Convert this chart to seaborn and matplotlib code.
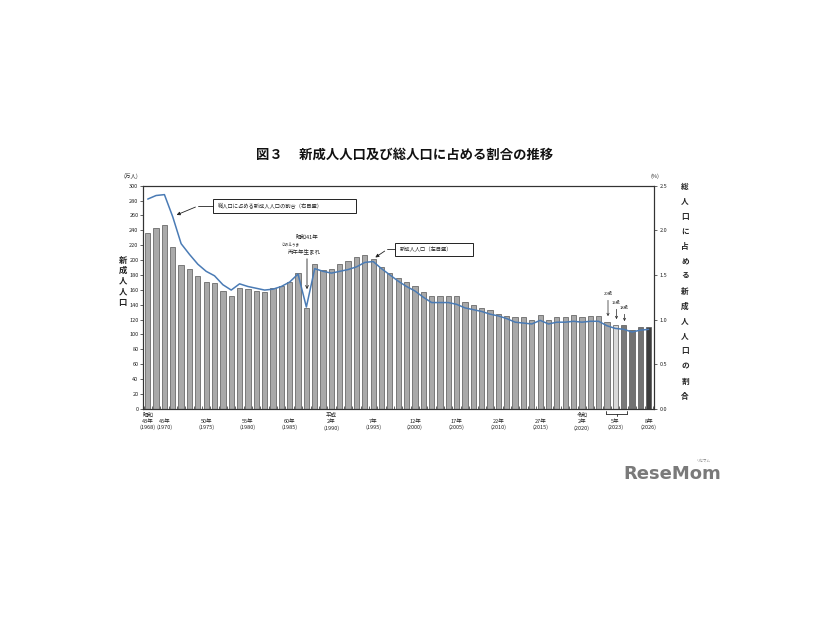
import matplotlib.pyplot as plt
import matplotlib.patches as mpatches
import seaborn as sns
import numpy as np

# 1968-2022, then 2023 split into 20/19/18-year-olds, then 2024-2026
categories = [str(y) for y in range(1968, 2023)] + ["2023_20", "2023_19", "2023_18", "2024", "2025", "2026"]

# new adults (万人), left axis
new_adults = [237, 243, 247, 217, 193, 188, 178, 171, 169, 159,
              152, 163, 161, 159, 157, 162, 165, 171, 183, 136,
              194, 187, 188, 194, 199, 204, 207, 201, 190, 183,
              176, 170, 165, 157, 152, 152, 152, 151, 143, 139,
              136, 133, 128, 125, 123, 123, 120, 126, 120, 124,
              124, 126, 123, 125, 125, 117, 113, 112, 106, 110, 110]

# share of total population (%), right axis
share = [2.35, 2.39, 2.40, 2.15, 1.85, 1.73, 1.62, 1.54, 1.49, 1.39,
         1.33, 1.40, 1.37, 1.35, 1.33, 1.34, 1.37, 1.42, 1.51, 1.14,
         1.57, 1.54, 1.52, 1.54, 1.56, 1.59, 1.64, 1.65, 1.57, 1.50,
         1.43, 1.37, 1.32, 1.25, 1.19, 1.19, 1.19, 1.17, 1.13, 1.11,
         1.09, 1.06, 1.04, 1.01, 0.97, 0.96, 0.95, 0.99, 0.95, 0.97,
         0.97, 0.98, 0.97, 0.98, 0.98, 0.93, 0.90, 0.89, 0.86, 0.88, 0.89]

tick_pos = [0, 2, 7, 12, 17, 22, 27, 32, 37, 42, 47, 52, 56, 60]
tick_text = ["昭和\n43年\n(1968)", "\n45年\n(1970)", "\n50年\n(1975)", "\n55年\n(1980)",
             "\n60年\n(1985)", "平成\n2年\n(1990)", "\n7年\n(1995)", "\n12年\n(2000)",
             "\n17年\n(2005)", "\n22年\n(2010)", "\n27年\n(2015)", "令和\n2年\n(2020)",
             "\n5年\n(2023)", "\n8年\n(2026)"]

sns.set_theme(style="white")
plt.rcParams["font.family"] = ["Noto Sans CJK JP", "DejaVu Sans"]

W, H = 826, 620
fig = plt.figure(figsize=(W / 100, H / 100), dpi=100)


def fxy(px, py):
    # pixel position in the picture -> figure fraction
    return (px / W, 1 - py / H)


pos = [143.3 / W, 1 - 408.7 / H, (654.3 - 143.3) / W, (408.7 - 185.7) / H]
ax = fig.add_axes(pos)

palette = {c: "#a9a9a9" for c in categories}
palette["2023_19"] = "#dadada"
palette["2023_18"] = "#7a7a7a"
palette["2024"] = "#727272"
palette["2025"] = "#727272"
palette["2026"] = "#3c3c3c"

sns.barplot(x=categories, y=new_adults, hue=categories, palette=palette, legend=False,
            width=0.63, edgecolor="#555555", linewidth=0.5, ax=ax)
ax.set_ylim(0, 300)
ax.set_xlim(-0.53, 60.67)
ax.set_yticks(range(0, 301, 20))
ax.set_xticks(tick_pos)
ax.set_xticklabels(tick_text, fontsize=4, linespacing=1.25, color="#222222")
ax.set_xticks(np.arange(-0.5, 60.6, 1), minor=True)
ax.tick_params(axis="x", which="major", length=0, pad=3)
ax.tick_params(axis="x", which="minor", length=2, direction="in", width=0.5, bottom=True)
ax.tick_params(axis="y", labelsize=4, length=2, width=0.5, direction="out", pad=1.5,
               labelcolor="#222222", left=True)
ax.set_xlabel("")
ax.set_ylabel("")

ax2 = ax.twinx()
ax2.set_position(pos)
sns.lineplot(x=np.arange(len(share)), y=share, ax=ax2, color="#4a7bb5", linewidth=1.1)
ax2.set_ylim(0, 2.5)
ax2.set_xlim(-0.53, 60.67)
ax2.set_yticks(np.arange(0, 2.51, 0.5))
ax2.set_yticklabels([f"{v:.1f}" for v in np.arange(0, 2.51, 0.5)])
ax2.tick_params(axis="y", labelsize=4, length=2, width=0.5, direction="out", pad=2,
                labelcolor="#222222", right=True)
ax2.grid(False)
ax2.set_ylabel("")

for a in (ax, ax2):
    for s in a.spines.values():
        s.set_color("#333333")
        s.set_linewidth(0.8)

# title and unit labels
fig.text(*fxy(404.5, 155), "図３　 新成人人口及び総人口に占める割合の推移",
         ha="center", va="center", fontsize=9.6, fontweight="bold", color="#111111")
fig.text(*fxy(131, 176), "(万人)", ha="center", va="center", fontsize=4, color="#222222")
fig.text(*fxy(655, 176), "(%)", ha="center", va="center", fontsize=4, color="#222222")

# vertical axis titles, one character per line
for i, ch in enumerate("新成人人口"):
    fig.text(*fxy(122.7, 260 + i * 10.5), ch, ha="center", va="center",
             fontsize=6, fontweight="bold", color="#222222")
for i, ch in enumerate("総人口に占める新成人人口の割合"):
    fig.text(*fxy(685, 186 + i * 15), ch, ha="center", va="center",
             fontsize=5.5, fontweight="bold", color="#222222")

# callout boxes
box_kw = dict(fill=False, edgecolor="#222222", linewidth=0.7, transform=fig.transFigure)
x0, y0 = fxy(213, 213)
x1, y1 = fxy(356, 199)
fig.add_artist(mpatches.Rectangle((x0, y0), x1 - x0, y1 - y0, **box_kw))
fig.text(*fxy(218, 206), "総人口に占める新成人人口の割合（右目盛）", ha="left", va="center",
         fontsize=3.8, color="#222222")
fig.add_artist(plt.Line2D(*zip(fxy(213, 206), fxy(198, 206)), color="#222222", lw=0.6,
                          transform=fig.transFigure))
ax.annotate("", xy=fxy(174, 216), xytext=fxy(198, 206), xycoords="figure fraction",
            textcoords="figure fraction",
            arrowprops=dict(arrowstyle="-|>", color="#222222", lw=0.6, mutation_scale=5))

x0, y0 = fxy(395, 256)
x1, y1 = fxy(473, 243)
fig.add_artist(mpatches.Rectangle((x0, y0), x1 - x0, y1 - y0, **box_kw))
fig.text(*fxy(400, 249.5), "新成人人口（左目盛）", ha="left", va="center",
         fontsize=3.8, color="#222222")
fig.add_artist(plt.Line2D(*zip(fxy(395, 249.5), fxy(387, 249.5)), color="#222222", lw=0.6,
                          transform=fig.transFigure))
ax.annotate("", xy=fxy(373, 259), xytext=fxy(387, 249.5), xycoords="figure fraction",
            textcoords="figure fraction",
            arrowprops=dict(arrowstyle="-|>", color="#222222", lw=0.6, mutation_scale=5))

# 丙午 note
fig.text(*fxy(307, 237.5), "昭和41年", ha="center", va="center", fontsize=4, color="#222222")
fig.text(*fxy(291, 245), "ひのえうま", ha="center", va="center", fontsize=2.6, color="#222222")
fig.text(*fxy(304, 251), "丙午年生まれ", ha="center", va="center", fontsize=4, color="#222222")
ax.annotate("", xy=fxy(307, 292), xytext=fxy(307, 256), xycoords="figure fraction",
            textcoords="figure fraction",
            arrowprops=dict(arrowstyle="->", color="#222222", lw=0.6, mutation_scale=5))

# 2023 age markers
for label, px, py, tip in [("20歳", 608, 294, 319), ("19歳", 616.5, 303, 322), ("18歳", 624.5, 308, 324)]:
    fig.text(*fxy(px, py), label, ha="center", va="center", fontsize=3, color="#222222")
    ax.annotate("", xy=fxy(px, tip), xytext=fxy(px, py + 3.5), xycoords="figure fraction",
                textcoords="figure fraction",
                arrowprops=dict(arrowstyle="->", color="#222222", lw=0.5, mutation_scale=4))

# bracket under the three 2023 bars
for seg in [((606, 411), (606, 413.5)), ((606, 413.5), (627.3, 413.5)),
            ((627.3, 413.5), (627.3, 411)), ((616.7, 413.5), (616.7, 416))]:
    fig.add_artist(plt.Line2D(*zip(fxy(*seg[0]), fxy(*seg[1])), color="#222222", lw=0.6,
                              transform=fig.transFigure))

# watermark
fig.text(*fxy(672, 474), "ReseMom", ha="center", va="center", fontsize=13,
         fontweight="bold", color="#7a7a7a", family="DejaVu Sans")
fig.text(*fxy(703, 461), "リセマム", ha="center", va="center", fontsize=2.5, color="#7a7a7a")

fig.savefig("out.png", dpi=100, facecolor="white")
